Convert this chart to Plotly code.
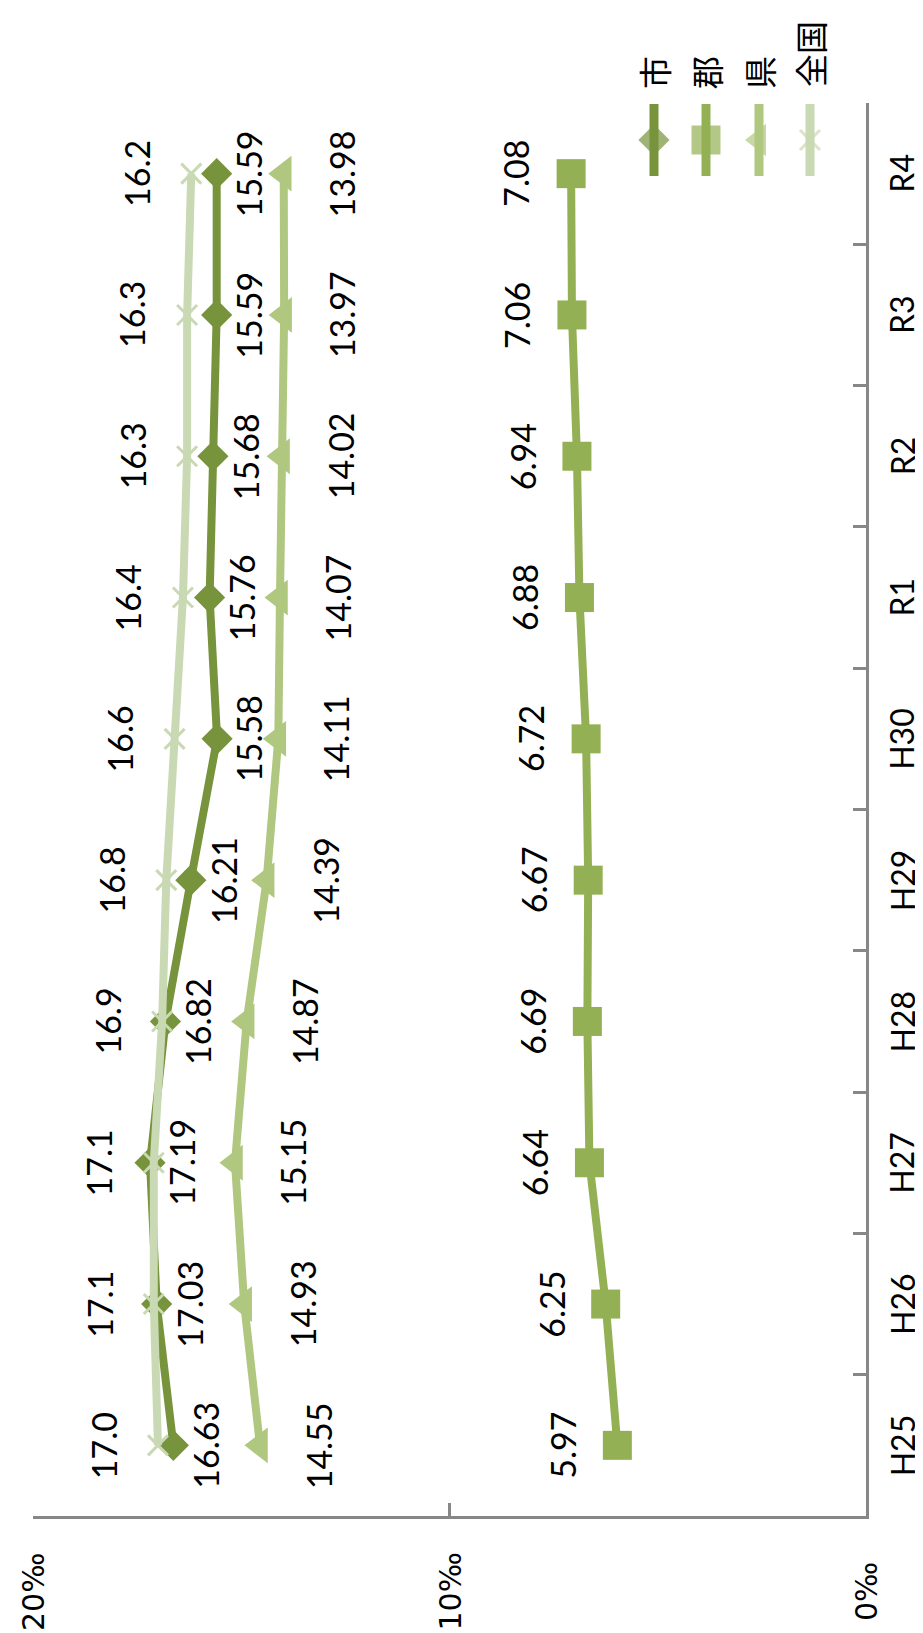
import plotly.graph_objects as go

categories = ["H25", "H26", "H27", "H28", "H29", "H30", "R1", "R2", "R3", "R4"]
shi = [16.63, 17.03, 17.19, 16.82, 16.21, 15.58, 15.76, 15.68, 15.59, 15.59]
gun = [5.97, 6.25, 6.64, 6.69, 6.67, 6.72, 6.88, 6.94, 7.06, 7.08]
ken = [14.55, 14.93, 15.15, 14.87, 14.39, 14.11, 14.07, 14.02, 13.97, 13.98]
zenkoku = [17.0, 17.1, 17.1, 16.9, 16.8, 16.6, 16.4, 16.3, 16.3, 16.2]
value_ticks = [0, 10, 20]
value_tick_text = ["0‰", "10‰", "20‰"]

series = [
    dict(name="市", values=shi, color="#77933C", symbol="diamond", size=24, shift=32, fmt="{:.2f}"),
    dict(name="郡", values=gun, color="#93B154", symbol="square", size=29, shift=-55, fmt="{:.2f}"),
    dict(name="県", values=ken, color="#AFC77F", symbol="triangle-left", size=31, shift=58, fmt="{:.2f}"),
    dict(name="全国", values=zenkoku, color="#C9D9B3", symbol="x-thin", size=20, shift=-55, fmt="{:.1f}"),
]

W, H = 923, 1633
L, R, T, B = 25, 65, 95, 125
PW, PH = W - L - R, H - T - B

def fx(px):
    return (px - L) / PW

def fy(py):
    return (H - B - py) / PH

fig = go.Figure()
annotations = []
for s in series:
    mk = dict(symbol=s["symbol"], size=s["size"], color=s["color"])
    if s["symbol"] == "x-thin":
        mk["line"] = dict(color=s["color"], width=3)
    else:
        mk["line"] = dict(width=0)
    fig.add_trace(go.Scatter(
        x=s["values"], y=categories, mode="lines+markers", name=s["name"],
        line=dict(color=s["color"], width=8), marker=mk, showlegend=False,
        cliponaxis=False,
    ))
    for v, c in zip(s["values"], categories):
        annotations.append(dict(
            x=v, y=c, xref="x", yref="y", text=s["fmt"].format(v),
            showarrow=False, textangle=-90, xshift=s["shift"],
            xanchor="center", yanchor="middle",
            font=dict(family="Lato", size=34, color="#000000"),
        ))

# category tick labels (rotated, right of the axis)
for c in categories:
    annotations.append(dict(
        x=fx(894), y=c, xref="paper", yref="y", text=c,
        showarrow=False, textangle=-90, xanchor="center", yanchor="middle",
        font=dict(family="Lato", size=32, color="#000000"),
    ))
# value tick labels (rotated, below the axis)
for v, t in zip(value_ticks, value_tick_text):
    annotations.append(dict(
        x=v, y=fy(1584), xref="x", yref="paper", text=t,
        showarrow=False, textangle=-90, xanchor="center", yanchor="middle",
        font=dict(family="DejaVu Sans", size=30, color="#000000"),
    ))

# legend (drawn manually, rotated like the chart)
leg_x = [646, 698, 751, 802]
leg_text_y = [65, 65, 65, 46]
for s, lx, ty in zip(series, leg_x, leg_text_y):
    msize = s["size"] if s["symbol"] != "triangle-left" else 28
    mk = dict(symbol=s["symbol"], size=[0, msize, 0], color=s["color"])
    if s["symbol"] == "x-thin":
        mk["line"] = dict(color=s["color"], width=3)
    else:
        mk["line"] = dict(width=0)
    fig.add_trace(go.Scatter(
        x=[fx(lx)] * 3, y=[fy(96), fy(132), fy(168)], xaxis="x2", yaxis="y2",
        mode="lines+markers", line=dict(color=s["color"], width=9),
        marker=mk, showlegend=False, cliponaxis=False, hoverinfo="skip",
    ))
    annotations.append(dict(
        x=fx(lx), y=fy(ty), xref="paper", yref="paper", text=s["name"],
        showarrow=False, textangle=-90, xanchor="center", yanchor="middle",
        font=dict(family="Noto Sans CJK JP", size=33, color="#000000"),
    ))

axis_color = "#878787"
fig.update_layout(
    width=W, height=H, template="none",
    paper_bgcolor="white", plot_bgcolor="white",
    margin=dict(l=L, r=R, t=T, b=B, autoexpand=False),
    showlegend=False,
    annotations=annotations,
    xaxis=dict(
        range=[20, 0], tickvals=value_ticks, showticklabels=False,
        showline=True, linecolor=axis_color, linewidth=3,
        ticks="inside", ticklen=13, tickwidth=3, tickcolor=axis_color,
        showgrid=False, zeroline=False, automargin=False,
    ),
    yaxis=dict(
        type="category", categoryorder="array", categoryarray=categories,
        range=[-0.5, 9.5], side="right", showticklabels=False,
        showline=True, linecolor=axis_color, linewidth=3,
        ticks="inside", ticklen=13, tickwidth=3, tickcolor=axis_color,
        tickson="boundaries", showgrid=False, zeroline=False,
        automargin=False,
    ),
    xaxis2=dict(overlaying="x", anchor="y2", range=[0, 1], visible=False),
    yaxis2=dict(overlaying="y", anchor="x2", range=[0, 1], visible=False),
)

fig.write_html("out.html")
